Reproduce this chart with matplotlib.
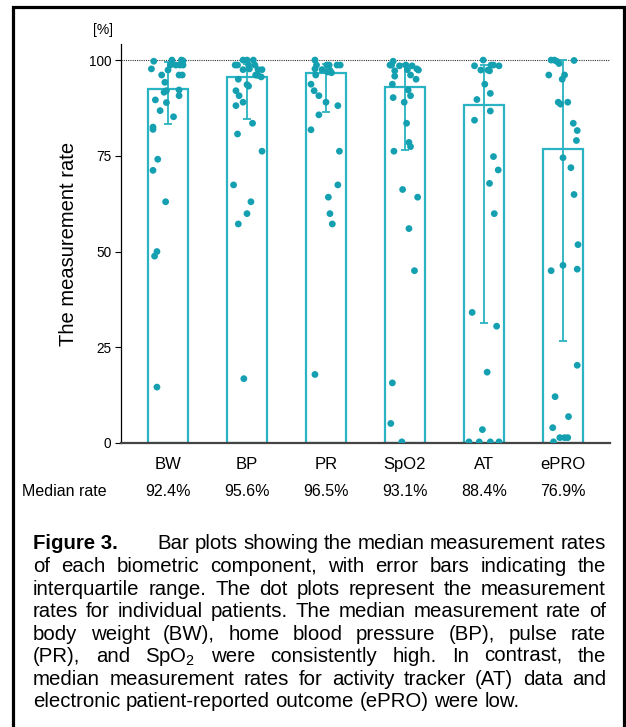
import matplotlib
matplotlib.use("Agg")
import matplotlib.pyplot as plt
import matplotlib.transforms as mtransforms
from matplotlib.patches import Rectangle
import numpy as np

plt.rcParams['font.family'] = ['Liberation Sans', 'DejaVu Sans']
plt.rcParams['mathtext.fontset'] = 'custom'
plt.rcParams['mathtext.rm'] = 'Liberation Sans'

# ---------------- data ----------------
categories = ["BW", "BP", "PR", "SpO2", "AT", "ePRO"]
median_labels = ["92.4%", "95.6%", "96.5%", "93.1%", "88.4%", "76.9%"]
medians = [92.4, 95.6, 96.5, 93.1, 88.4, 76.9]
q1 = [83.3, 84.6, 86.4, 76.5, 31.4, 26.6]
q3 = [99.5, 99.0, 99.0, 99.0, 98.7, 100.0]

bw_vals = [99.7, 100, 100, 99.8, 98.7, 98.7, 98.7, 98.7, 97.7, 97.4, 96.1, 96.1, 96.1,
           94.2, 91.6, 92.0, 92.2, 90.7, 89.6, 88.9, 86.8, 85.2, 82.5, 81.9, 74.1, 71.2,
           63.0, 50.0, 48.8, 14.6]
bw_jit = [-0.18, 0.05, 0.17, 0.19, 0.03, 0.10, 0.15, 0.19, -0.21, 0.00, -0.08, 0.14, 0.18,
          -0.04, -0.05, -0.02, 0.14, 0.14, -0.16, -0.02, -0.10, 0.07, -0.19, -0.19, -0.13, -0.19,
          -0.03, -0.14, -0.17, -0.14]

bp_vals = [98.7, 98.7, 100, 100, 100, 98.7, 98.7, 97.5, 97.7, 97.5, 97.5, 96.1, 96.0, 95.6,
           95.0, 93.6, 93.2, 92.0, 90.7, 89.0, 88.1, 83.5, 80.7, 76.2, 67.4, 63.0, 59.9, 57.2, 16.8]
bp_jit = [-0.15, -0.12, -0.05, 0.00, 0.08, 0.02, 0.10, -0.05, 0.03, 0.14, 0.19, 0.11, 0.14, 0.18,
          -0.11, 0.00, 0.02, -0.14, -0.10, -0.05, -0.14, 0.07, -0.12, 0.19, -0.17, 0.05, 0.00, -0.11, -0.04]

pr_vals = [100, 98.7, 98.7, 98.7, 98.7, 98.7, 97.5, 97.7, 97.3, 96.9, 96.7, 96.1, 93.7, 92.0,
           90.7, 89.0, 88.1, 85.7, 81.8, 76.2, 67.4, 64.2, 59.9, 57.2, 17.9]
pr_jit = [-0.14, -0.12, 0.01, 0.04, 0.14, 0.18, -0.05, -0.14, 0.05, 0.02, 0.07, -0.13, -0.19, -0.15,
          -0.09, 0.00, 0.15, -0.09, -0.19, 0.17, 0.15, 0.03, 0.05, 0.08, -0.14]

spo2_vals = [99.7, 98.7, 98.7, 98.5, 98.7, 98.5, 97.5, 97.7, 97.4, 97.2, 96.1, 95.0, 95.8, 93.7,
             90.2, 92.2, 90.7, 89.0, 83.5, 78.5, 77.4, 76.2, 66.2, 64.2, 56.0, 45.0, 15.7, 5.1, 0.3]
spo2_jit = [-0.15, -0.17, -0.19, -0.07, 0.01, 0.09, 0.03, 0.15, 0.17, -0.13, 0.07, 0.14, -0.13, -0.16,
            -0.15, 0.04, 0.07, -0.01, 0.02, 0.05, 0.07, -0.14, -0.03, 0.16, 0.05, 0.12, -0.16, -0.18, -0.04]

at_vals = [100, 98.5, 97.4, 97.4, 98.7, 98.7, 98.5, 97.2, 93.7, 91.3, 89.7, 84.3, 86.7, 74.8,
           71.3, 67.8, 59.9, 34.1, 30.5, 18.5, 3.5, 0.3, 0.3, 0.3, 0.3]
at_jit = [-0.01, -0.12, -0.04, 0.05, 0.09, 0.12, 0.19, 0.07, 0.01, 0.08, -0.09, -0.12, 0.08, 0.12,
          0.18, 0.07, 0.13, -0.15, 0.16, 0.04, -0.02, -0.19, -0.06, 0.08, 0.19]

epro_vals = [100, 100, 99.7, 99.1, 99.9, 96.1, 96.1, 95.0, 89.0, 88.5, 89.0, 83.5, 81.6, 79.0,
             74.5, 71.9, 64.9, 51.8, 45.0, 46.4, 45.4, 20.3, 12.1, 6.9, 4.0, 1.4, 1.4, 1.4, 0.3]
epro_jit = [-0.15, -0.11, -0.08, -0.05, 0.14, -0.18, 0.02, -0.01, -0.06, -0.03, 0.06, 0.13, 0.18, 0.17,
            0.00, 0.10, 0.14, 0.19, -0.15, 0.00, 0.18, 0.18, -0.10, 0.07, -0.13, -0.04, 0.02, 0.06, -0.12]

point_vals = [bw_vals, bp_vals, pr_vals, spo2_vals, at_vals, epro_vals]
point_jit = [bw_jit, bp_jit, pr_jit, spo2_jit, at_jit, epro_jit]

yticks = [0, 25, 50, 75, 100]

caption_lines = [
    "of each biometric component, with error bars indicating the",
    "interquartile range. The dot plots represent the measurement",
    "rates for individual patients. The median measurement rate of",
    "body weight (BW), home blood pressure (BP), pulse rate",
    r"(PR), and SpO$_\mathregular{2}$ were consistently high. In contrast, the",
    "median measurement rates for activity tracker (AT) data and",
    "electronic patient-reported outcome (ePRO) were low.",
]
caption_first = "Bar plots showing the median measurement rates"
caption_title = "Figure 3."

# ---------------- figure ----------------
W, H = 626, 727
fig = plt.figure(figsize=(W / 100, H / 100), dpi=100)

def fx(px):
    return px / W

def fy(py):
    return 1 - py / H

ax_left, ax_right, ax_top, ax_bottom = 121, 610, 44, 443
ax = fig.add_axes([fx(ax_left), fy(ax_bottom), fx(ax_right - ax_left), (ax_bottom - ax_top) / H])

teal = '#15a0b1'
edge = '#2ab3c2'
x = np.arange(len(categories))

ax.bar(x, medians, width=0.5, facecolor='none', edgecolor=edge, linewidth=1.6, zorder=2)
med = np.array(medians)
ax.errorbar(x, med, yerr=[med - np.array(q1), np.array(q3) - med], fmt='none',
            ecolor=edge, elinewidth=1.3, capsize=3, capthick=1.3, zorder=2.5)
for i, (vals, jit) in enumerate(zip(point_vals, point_jit)):
    ax.scatter(i + np.array(jit), vals, s=24, color=teal, edgecolors='none', zorder=3)

ax.axhline(100, color='#333333', linestyle=(0, (1, 1)), linewidth=0.8, zorder=1)

ax.set_xlim(-0.595, len(categories) - 1 + 0.595)
ax.set_ylim(0, 104.2)
ax.set_yticks(yticks)
ax.set_yticklabels([str(t) for t in yticks], fontsize=9.8)
ax.set_xticks(x)
ax.set_xticklabels(categories, fontsize=12)
ax.tick_params(axis='x', length=0, pad=10)
ax.tick_params(axis='y', length=4, width=0.8, pad=3)
for s in ['top', 'right']:
    ax.spines[s].set_visible(False)
ax.spines['left'].set_linewidth(0.9)
ax.spines['bottom'].set_linewidth(1.6)
ax.spines['bottom'].set_color('#444444')
ax.set_ylabel("The measurement rate", fontsize=14.5, labelpad=8)

fig.text(fx(103), fy(30), "[%]", fontsize=10, ha='center', va='center')

# Median rate row
row_tr = mtransforms.blended_transform_factory(ax.transData, fig.transFigure)
fig.text(fx(22), fy(492), "Median rate", fontsize=11.5, ha='left', va='center')
for i, lab in enumerate(median_labels):
    ax.text(i, fy(492), lab, transform=row_tr, fontsize=11.5, ha='center', va='center')

# border
fig.patches.append(Rectangle((fx(13), -0.01), fx(624 - 13), fy(7) + 0.01, transform=fig.transFigure,
                             fill=False, edgecolor='black', linewidth=2.3))

# ---------------- caption (justified) ----------------
fig.canvas.draw()
r = fig.canvas.get_renderer()

def tw(s, fs, **kw):
    t = fig.text(0, 0, s, fontsize=fs, **kw)
    w = t.get_window_extent(r).width
    t.remove()
    return w

cap_left, cap_right = 33, 606
first_left = 157
base = 10.0
ratios = [(cap_right - first_left) / tw(caption_first, base)]
for ln in caption_lines[:-1]:
    ratios.append((cap_right - cap_left) / tw(ln, base))
cfs = base * min(ratios)

baselines = [549, 572, 595, 617, 640, 662, 685, 707]

def place_line(text, y, xl, xr, justify=True):
    words = text.split(' ')
    widths = [tw(w_, cfs) for w_ in words]
    if justify and len(words) > 1:
        gap = (xr - xl - sum(widths)) / (len(words) - 1)
    else:
        gap = tw('a a', cfs) - tw('aa', cfs)
    xpos = xl
    for w_, wd in zip(words, widths):
        fig.text(fx(xpos), fy(y), w_, fontsize=cfs, ha='left', va='baseline')
        xpos += wd + gap

fig.text(fx(cap_left), fy(baselines[0]), caption_title, fontsize=cfs, fontweight='bold',
         family=['Liberation Sans Narrow', 'Liberation Sans'], ha='left', va='baseline')
place_line(caption_first, baselines[0], first_left, cap_right)
for i, ln in enumerate(caption_lines):
    place_line(ln, baselines[i + 1], cap_left, cap_right, justify=(i < len(caption_lines) - 1))

fig.savefig("out.png", dpi=100)
